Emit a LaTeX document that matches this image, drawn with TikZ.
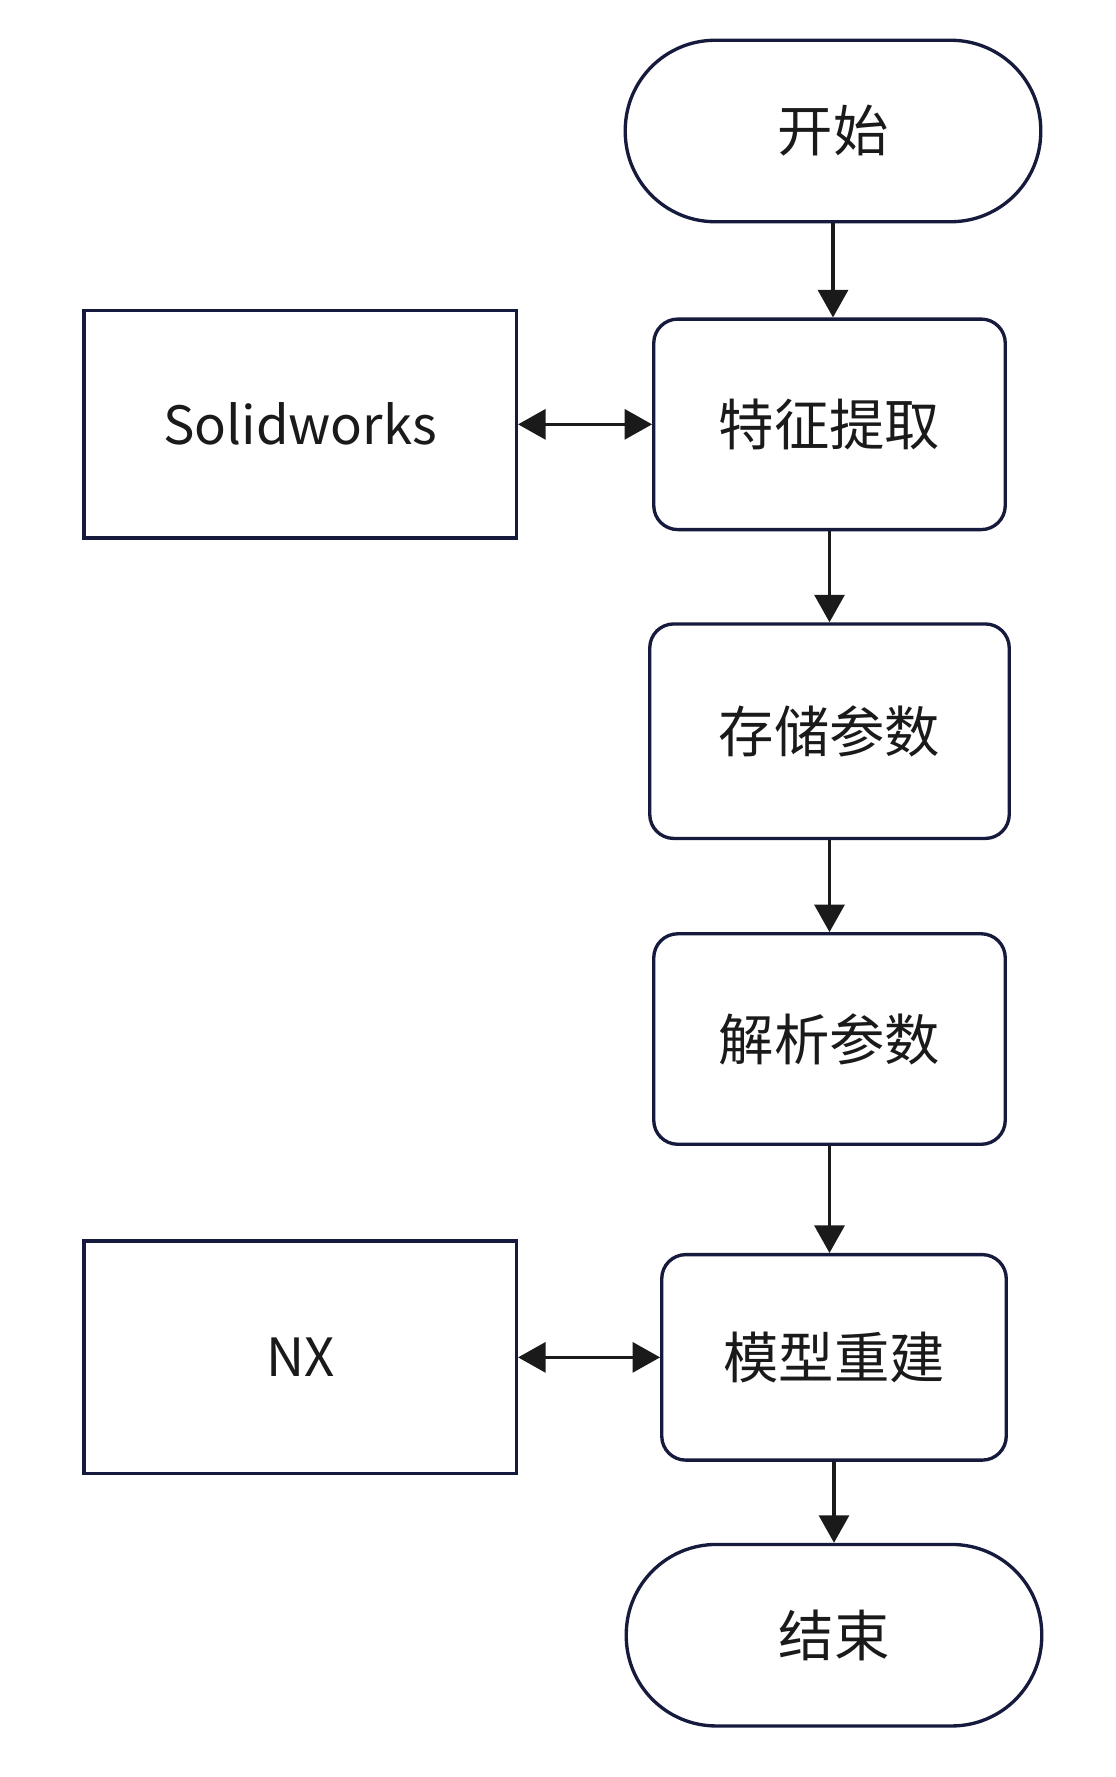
\documentclass[tikz,border=0pt]{standalone}
\usepackage{fontspec}
\setmainfont{Noto Sans CJK SC}
\usetikzlibrary{positioning,arrows.meta}
\definecolor{edge}{RGB}{22,26,60}
\definecolor{ink}{RGB}{26,26,26}
\tikzset{
    every node/.style = {font=\fontsize{31.5}{38}\selectfont, text=ink},
    terminal/.style = {draw=edge, line width=1.9pt, rounded corners=1.8cm,
        minimum width=8.31cm, minimum height=3.63cm},
    process/.style = {draw=edge, line width=1.9pt, rounded corners=0.48cm,
        minimum width=7.03cm, minimum height=4.21cm},
    tool/.style = {draw=edge, line width=1.9pt, font=\fontsize{30}{36}\selectfont,
        minimum width=8.65cm, minimum height=4.55cm},
    link/.style = {draw=ink, line width=1.8pt, -{Triangle[length=0.55cm, width=0.6cm]}},
    duallink/.style = {link, {Triangle[length=0.55cm, width=0.6cm]}-{Triangle[length=0.55cm, width=0.6cm]}}
}

\begin{document}
\begin{tikzpicture}
    \useasboundingbox (0,0) rectangle (22.3,-35.54);

    \node[terminal] (start) at (16.66,-2.62) {开始};
    \node[process] (feature) [below=1.88cm of start, xshift=-0.07cm] {特征提取};
    \node[process] (store) [below=1.82cm of feature, minimum width=7.19cm, minimum height=4.29cm] {存储参数};
    \node[process] (parse) [below=1.84cm of store] {解析参数};
    \node[process] (rebuild) [below=2.14cm of parse, xshift=0.09cm, minimum width=6.89cm, minimum height=4.11cm] {模型重建};
    \node[terminal] (finish) [below=1.62cm of rebuild] {结束};

    \node[tool] (solid) [left=2.68cm of feature] {Solidworks};
    \node[tool] (nx) [left=2.84cm of rebuild, minimum height=4.65cm] {NX};

    % main flow
    \draw[link] (start.south) -- (start.south |- feature.north);
    \draw[link] (feature.south) -- (feature.south |- store.north);
    \draw[link] (store.south) -- (store.south |- parse.north);
    \draw[link] (parse.south) -- (parse.south |- rebuild.north);
    \draw[link] (rebuild.south) -- (rebuild.south |- finish.north);

    % software links
    \draw[duallink] (solid) -- (feature);
    \draw[duallink] (nx) -- (rebuild);
\end{tikzpicture}
\end{document}
